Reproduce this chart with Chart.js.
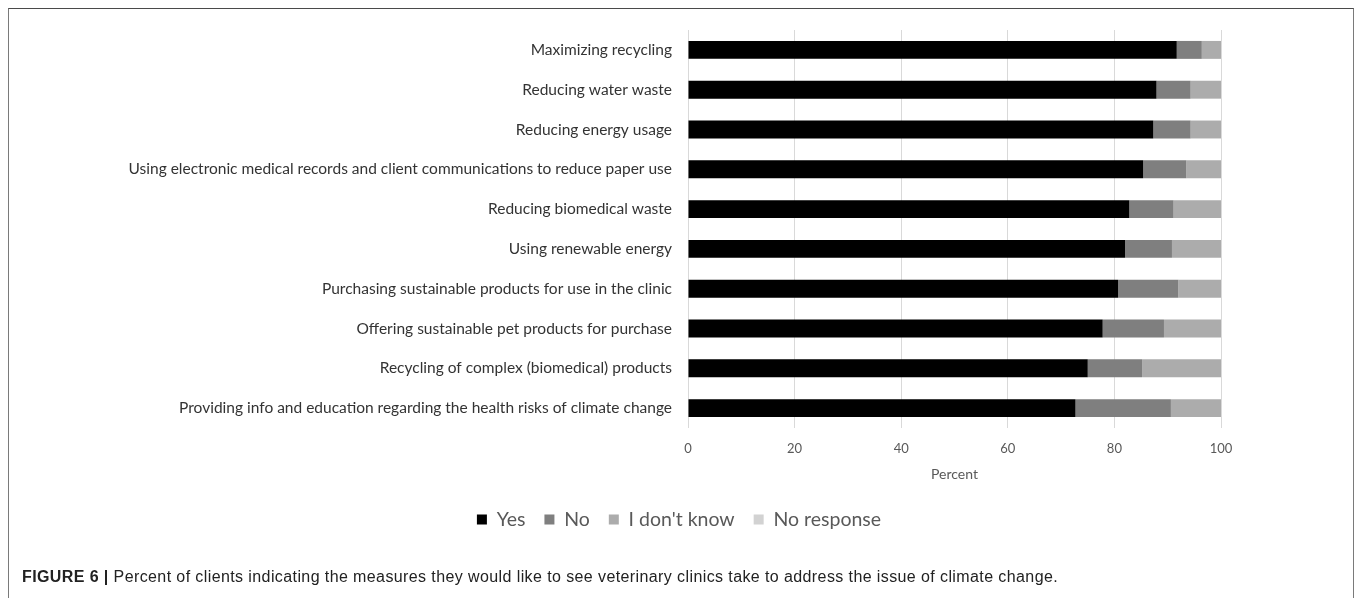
<!DOCTYPE html>
<html>
<head>
<meta charset="utf-8">
<script src="https://cdn.jsdelivr.net/npm/chart.js@4.4.1/dist/chart.umd.min.js"></script>
<style>
  html, body { margin: 0; padding: 0; background: #fff; }
  body { width: 1358px; height: 598px; position: relative; overflow: hidden; }
  #frame {
    position: absolute; left: 8px; top: 8px; width: 1346px; height: 620px;
    border-top: 1.5px solid #4a4a4a; border-left: 1.5px solid #7a7a7a; border-right: 1.5px solid #7a7a7a;
    box-sizing: border-box;
  }
  #wrap { position: absolute; left: 0; top: 0; width: 1358px; height: 598px; }
  #caption {
    position: absolute; left: 22px; top: 568px; white-space: nowrap;
    font-family: "Liberation Sans", Arial, sans-serif; font-size: 16px; letter-spacing: 0.4px; color: #222;
  }
  #caption b { font-weight: bold; }
</style>
</head>
<body>
<div id="frame"></div>
<div id="wrap"><canvas id="chart" width="1358" height="598"></canvas></div>
<div id="caption"><b>FIGURE 6 |</b> Percent of clients indicating the measures they would like to see veterinary clinics take to address the issue of climate change.</div>
<script>
const categories = [
  "Maximizing recycling",
  "Reducing water waste",
  "Reducing energy usage",
  "Using electronic medical records and client communications to reduce paper use",
  "Reducing biomedical waste",
  "Using renewable energy",
  "Purchasing sustainable products for use in the clinic",
  "Offering sustainable pet products for purchase",
  "Recycling of complex (biomedical) products",
  "Providing info and education regarding the health risks of climate change"
];
const yesValues        = [91.7, 87.9, 87.3, 85.4, 82.8, 82.0, 80.7, 77.8, 75.0, 72.7];
const noValues         = [4.7, 6.4, 7.0, 8.1, 8.3, 8.8, 11.3, 11.5, 10.2, 17.9];
const dontKnowValues   = [3.6, 5.7, 5.7, 6.5, 8.9, 9.2, 8.0, 10.7, 14.8, 9.4];
const noResponseValues = [0, 0, 0, 0, 0, 0, 0, 0, 0, 0];
const xTicks = [0, 20, 40, 60, 80, 100];

const seriesNames  = ["Yes", "No", "I don't know", "No response"];
const seriesColors = ["#000000", "#7f7f7f", "#acacac", "#d2d2d2"];
const seriesValues = [yesValues, noValues, dontKnowValues, noResponseValues];

const FONT = "Lato, 'Open Sans', sans-serif";

new Chart(document.getElementById("chart"), {
  type: "bar",
  data: {
    labels: categories,
    datasets: seriesNames.map((name, i) => ({
      label: name,
      data: seriesValues[i],
      backgroundColor: seriesColors[i],
      borderWidth: 0,
      barPercentage: 0.9,
      categoryPercentage: 0.5
    }))
  },
  options: {
    indexAxis: "y",
    responsive: false,
    animation: false,
    layout: { padding: { top: 30, right: 0, bottom: 58.75, left: 0 } },
    scales: {
      x: {
        stacked: true,
        min: 0, max: 100,
        afterBuildTicks: (scale) => { scale.ticks = xTicks.map(v => ({ value: v })); },
        afterFit: (scale) => { scale.height = 62.75; },
        grid: { color: "#d9d9d9", lineWidth: 1, drawTicks: false },
        border: { display: false },
        ticks: { color: "#595959", font: { family: FONT, size: 13 }, padding: 13 },
        title: {
          display: true, text: "Percent", color: "#595959",
          font: { family: FONT, size: 14 }, padding: { top: 0, bottom: 8.35 }
        }
      },
      y: {
        stacked: true,
        afterFit: (scale) => { scale.width = 688; },
        grid: { display: false, drawTicks: false },
        border: { display: false },
        ticks: { color: "#333333", font: { family: FONT, size: 15.5 }, padding: 16 }
      },
      // empty right-hand gutter so the plot ends at 100 while the legend stays centred on the page
      gutter: {
        type: "category",
        axis: "y",
        position: "right",
        afterFit: (scale) => { scale.width = 137; },
        grid: { display: false, drawTicks: false },
        border: { display: false },
        ticks: { display: false }
      }
    },
    plugins: {
      legend: {
        position: "bottom",
        labels: {
          color: "#595959",
          font: { family: FONT, size: 19.5 },
          boxWidth: 10, boxHeight: 10,
          padding: 19
        }
      },
      tooltip: { enabled: false }
    }
  }
});
</script>
</body>
</html>
